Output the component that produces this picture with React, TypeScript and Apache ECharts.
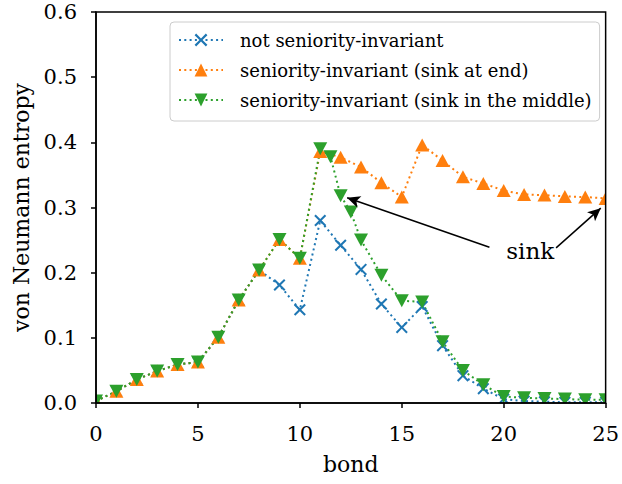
import React, { useEffect, useRef } from "react";
import * as echarts from "echarts";

const FONT = "DejaVu Serif";

const bonds = [0, 1, 2, 3, 4, 5, 6, 7, 8, 9, 10, 11, 12, 13, 14, 15, 16, 17, 18, 19, 20, 21, 22, 23, 24, 25];
const notSeniority = [0.003, 0.018, 0.036, 0.049, 0.059, 0.063, 0.101, 0.158, 0.204, 0.181, 0.143, 0.28, 0.242, 0.205, 0.152, 0.116, 0.148, 0.088, 0.042, 0.022, 0.006, 0.003, 0.002, 0.001, 0.001, 0.001];
const sinkAtEnd = [0.003, 0.018, 0.036, 0.049, 0.059, 0.063, 0.101, 0.158, 0.204, 0.251, 0.222, 0.386, 0.377, 0.362, 0.338, 0.316, 0.396, 0.372, 0.347, 0.337, 0.326, 0.32, 0.319, 0.317, 0.316, 0.314];
const sinkMiddleBonds = [0, 1, 2, 3, 4, 5, 6, 7, 8, 9, 10, 11, 11.5, 12, 12.5, 13, 14, 15, 16, 17, 18, 19, 20, 21, 22, 23, 24, 25];
const sinkMiddle = [0.003, 0.018, 0.036, 0.049, 0.059, 0.063, 0.101, 0.158, 0.204, 0.251, 0.222, 0.39, 0.378, 0.318, 0.293, 0.25, 0.196, 0.157, 0.155, 0.094, 0.05, 0.028, 0.01, 0.008, 0.007, 0.006, 0.005, 0.005];

const seriesNames = [
  "not seniority-invariant",
  "seniority-invariant (sink at end)",
  "seniority-invariant (sink in the middle)",
];
const colors = ["#1f77b4", "#ff7f0e", "#2ca02c"];

// annotation (data coordinates)
const sinkLabelPos = [21.3, 0.233];
const arrows = [
  [[19.3, 0.239], [12.32, 0.315]],
  [[22.57, 0.238], [24.76, 0.299]],
];

const X_MIN = 0;
const X_MAX = 25;
const Y_MIN = 0;
const Y_MAX = 0.6;

const X_PATH =
  "path://M0,1.2L1.2,0L5,3.8L8.8,0L10,1.2L6.2,5L10,8.8L8.8,10L5,6.2L1.2,10L0,8.8L3.8,5Z";

export default function App() {
  const ref = useRef<HTMLDivElement>(null);
  useEffect(() => {
    document.body.style.margin = "0";
    const chart = echarts.init(ref.current!, null, { renderer: "svg" });
    const dotted = (c: string) => ({ color: c, width: 2, type: [2, 3.3] as any });
    const axisCommon = {
      z: 10,
      axisLine: { show: true, lineStyle: { color: "#000", width: 1.5 } },
      axisTick: { show: true, inside: false, length: 5, lineStyle: { color: "#000", width: 1.5 } },
      splitLine: { show: false },
      nameTextStyle: { fontFamily: FONT, fontSize: 22, color: "#000" },
    };
    chart.setOption({
      animation: false,
      textStyle: { fontFamily: FONT },
      grid: {
        left: 96,
        right: 12,
        top: 12,
        bottom: 81,
        show: true,
        z: 10,
        borderColor: "#000",
        borderWidth: 1.5,
        backgroundColor: "transparent",
      },
      legend: {
        orient: "vertical",
        left: 170,
        top: 22,
        itemWidth: 44,
        itemHeight: 16,
        itemGap: 10,
        padding: [8, 8, 11, 8],
        backgroundColor: "rgba(255,255,255,0.8)",
        borderColor: "#cccccc",
        borderWidth: 1,
        borderRadius: 4,
        textStyle: {
          fontFamily: FONT,
          fontSize: 18,
          color: "#000",
          lineHeight: 20,
          padding: [0, 0, 0, 12],
        },
        data: seriesNames,
      },
      xAxis: {
        ...axisCommon,
        type: "value",
        min: X_MIN,
        max: X_MAX,
        interval: 5,
        name: "bond",
        nameLocation: "middle",
        nameGap: 50,
        axisLabel: { fontFamily: FONT, fontSize: 21, color: "#000", margin: 20 },
      },
      yAxis: {
        ...axisCommon,
        type: "value",
        min: Y_MIN,
        max: Y_MAX,
        interval: 0.1,
        name: "von Neumann entropy",
        nameLocation: "middle",
        nameGap: 64,
        nameRotate: 90,
        axisLabel: {
          fontFamily: FONT,
          fontSize: 21,
          color: "#000",
          margin: 19,
          formatter: (v: number) => v.toFixed(1),
        },
      },
      series: [
        {
          name: seriesNames[0],
          type: "line",
          data: bonds.map((b, i) => [b, notSeniority[i]]),
          symbol: X_PATH,
          symbolSize: 12,
          showAllSymbol: true,
          itemStyle: { color: colors[0] },
          lineStyle: dotted(colors[0]),
          emphasis: { disabled: true },
        },
        {
          name: seriesNames[1],
          type: "line",
          data: bonds.map((b, i) => [b, sinkAtEnd[i]]),
          symbol: "triangle",
          symbolSize: [14, 13],
          showAllSymbol: true,
          itemStyle: { color: colors[1] },
          lineStyle: dotted(colors[1]),
          emphasis: { disabled: true },
        },
        {
          name: seriesNames[2],
          type: "line",
          data: sinkMiddleBonds.map((b, i) => [b, sinkMiddle[i]]),
          symbol: "triangle",
          symbolRotate: 180,
          symbolSize: [14, 13],
          showAllSymbol: true,
          itemStyle: { color: colors[2] },
          lineStyle: dotted(colors[2]),
          emphasis: { disabled: true },
          markLine: {
            silent: true,
            symbol: ["none", "arrow"],
            symbolSize: [9, 13],
            lineStyle: { color: "#000", width: 1.5, type: "solid" },
            label: { show: false },
            emphasis: { disabled: true },
            data: arrows.map((a) => [
              { coord: a[0], symbol: "none" },
              { coord: a[1], symbol: "arrow" },
            ]),
          },
          markPoint: {
            silent: true,
            data: [
              {
                coord: sinkLabelPos,
                symbol: "rect",
                symbolSize: 1,
                itemStyle: { color: "rgba(0,0,0,0)" },
                label: {
                  show: true,
                  position: "inside",
                  formatter: "sink",
                  color: "#000",
                  fontFamily: FONT,
                  fontSize: 23,
                },
              },
            ],
          },
        },
      ],
    });
    // white masks outside the plot area so markers are clipped like the axes box
    const p0 = chart.convertToPixel({ gridIndex: 0 }, [X_MIN, Y_MIN]) as number[];
    const p1 = chart.convertToPixel({ gridIndex: 0 }, [X_MAX, Y_MAX]) as number[];
    const L = p0[0], B = p0[1], R = p1[0], T = p1[1];
    const W = 622, H = 484;
    const mask = (x: number, y: number, w: number, h: number) => ({
      type: "rect",
      z: 5,
      silent: true,
      shape: { x, y, width: w, height: h },
      style: { fill: "#fff" },
    });
    chart.setOption({
      graphic: [
        mask(0, 0, L, H),
        mask(R, 0, W - R, H),
        mask(0, 0, W, T),
        mask(0, B, W, H - B),
      ],
    });
    return () => chart.dispose();
  }, []);
  return <div ref={ref} style={{ width: 622, height: 484 }} />;
}
